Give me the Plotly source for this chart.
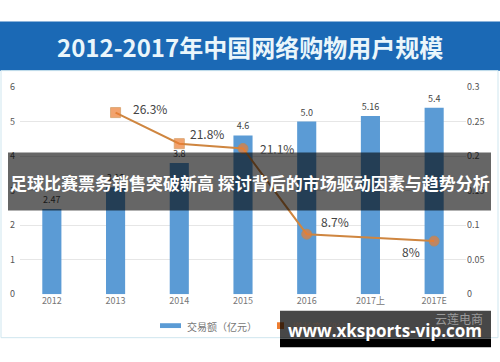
import plotly.graph_objects as go

# ---- data ----
categories = ["2012", "2013", "2014", "2015", "2016", "2017上", "2017E"]
trade_values = [2.47, 3.10, 3.8, 4.6, 5.0, 5.16, 5.4]
trade_labels = ["2.47", "3.10", "3.8", "4.6", "5.0", "5.16", "5.4"]
growth_values = [None, 0.263, 0.218, 0.211, 0.087, None, 0.077]
growth_labels = [None, "26.3%", "21.8%", "21.1%", "8.7%", None, "8%"]
left_ticks = [0, 1, 2, 3, 4, 5, 6]
right_ticks = [0, 0.05, 0.1, 0.15, 0.2, 0.25, 0.3]

title_text = "2012-2017年中国网络购物用户规模"
overlay_text = "足球比赛票务销售突破新高 探讨背后的市场驱动因素与趋势分析"
footer_text = "www.xksports-vip.com"
watermark_text = "云莲电商"
legend_bar = "交易额（亿元）"
legend_line = "增长率（%）"

FONT = "Noto Sans CJK SC, Noto Sans, sans-serif"
W, H = 500, 362

def py(pix):  # pixel-from-top -> paper fraction
    return (H - pix) / H

def px(pix):
    return pix / W

def note(text, x, y, size, color, family=FONT, xanchor="center"):
    return dict(text=text, xref="paper", yref="paper", x=px(x), y=py(y),
                xanchor=xanchor, yanchor="middle", showarrow=False,
                font=dict(size=size, color=color, family=family))

fig = go.Figure()

fig.add_trace(go.Bar(
    x=categories, y=trade_values, text=trade_labels,
    textposition="outside", cliponaxis=False,
    textfont=dict(size=9, color="#444", family=FONT),
    marker=dict(color="#5b9bd5", line=dict(width=0)),
    width=0.3, name=legend_bar, showlegend=False,
))

symbols = ["square", "square", "square", "circle", "circle", "circle", "circle"]
fig.add_trace(go.Scatter(
    x=categories, y=growth_values, yaxis="y2", mode="lines+markers",
    connectgaps=True,
    line=dict(color="#cf8640", width=2),
    marker=dict(color="#ed7d31", size=[9, 10, 10, 10, 10, 10, 10], symbol=symbols),
    name=legend_line, showlegend=False, cliponaxis=False,
))

shapes = []
annotations = []

# title band and container frame
shapes.append(dict(type="rect", xref="paper", yref="paper", x0=0, x1=1,
                   y0=py(66), y1=py(15), fillcolor="#1b69b5", line=dict(width=0), layer="below"))
shapes.append(dict(type="rect", xref="paper", yref="paper", x0=px(1), x1=px(498),
                   y0=py(343), y1=py(66), fillcolor="rgba(0,0,0,0)",
                   line=dict(color="#cfe6ef", width=1), layer="below"))
annotations.append(note("<b>" + title_text + "</b>", 250, 41, 24, "#eaf6fb"))

# growth labels (x given as category index so numeric-looking names are not misread)
label_offsets = {1: (34, 4), 2: (28, 10), 3: (34, 0), 4: (28, 13), 6: (-23, -10)}
for i, lab in enumerate(growth_labels):
    if lab is None:
        continue
    dx, dy = label_offsets[i]
    annotations.append(dict(text=lab, x=i, y=growth_values[i], xref="x", yref="y2",
                            xshift=dx, yshift=dy, showarrow=False,
                            xanchor="center", yanchor="middle",
                            font=dict(size=12, color="#444", family=FONT)))

# legend (manual)
shapes.append(dict(type="rect", xref="paper", yref="paper", x0=px(160), x1=px(181),
                   y0=py(333), y1=py(328), fillcolor="#5b9bd5", line=dict(width=0)))
annotations.append(note(legend_bar, 185, 331, 10, "#777", xanchor="left"))
shapes.append(dict(type="rect", xref="paper", yref="paper", x0=px(277), x1=px(284),
                   y0=py(334), y1=py(327), fillcolor="#ed7d31", line=dict(width=0)))

# overlay band
shapes.append(dict(type="rect", xref="paper", yref="paper", x0=px(8), x1=px(491),
                   y0=py(211), y1=py(151), fillcolor="rgba(0,0,0,0.6)",
                   line=dict(width=0), layer="above"))
annotations.append(note("<b>" + overlay_text + "</b>", 250, 182, 17, "white"))

# footer band
shapes.append(dict(type="rect", xref="paper", yref="paper", x0=px(280), x1=px(491),
                   y0=py(344), y1=py(315), fillcolor="rgba(0,0,0,0.72)",
                   line=dict(width=0), layer="above"))
shapes.append(dict(type="rect", xref="paper", yref="paper", x0=px(280), x1=px(491),
                   y0=py(353), y1=py(344), fillcolor="black",
                   line=dict(width=0), layer="above"))
annotations.append(note(legend_line, 290, 331, 10, "#5a4a40", xanchor="left"))
annotations.append(note(watermark_text, 459, 323, 12, "#9a9a9a"))
annotations.append(note("<b>" + footer_text + "</b>", 385, 336, 17, "white",
                        family="Open Sans, DejaVu Sans, sans-serif"))

fig.update_layout(
    width=W, height=H, autosize=False,
    margin=dict(l=0, r=0, t=0, b=0),
    paper_bgcolor="white", plot_bgcolor="white",
    font=dict(family=FONT),
    bargap=0.7, showlegend=False,
    xaxis=dict(type="category", domain=[px(20), px(466)], range=[-0.5, 6.5],
               showgrid=False, zeroline=False,
               showline=False, tickfont=dict(size=9, color="#777"), ticks=""),
    yaxis=dict(domain=[py(298), py(83)], range=[0, 6], tickvals=left_ticks,
               showgrid=True, gridcolor="#e6e6e6", gridwidth=1, zeroline=False,
               tickfont=dict(size=9, color="#555"), ticklabelstandoff=4),
    yaxis2=dict(overlaying="y", side="right", range=[0, 0.3], tickvals=right_ticks,
                showgrid=False, zeroline=False, tickfont=dict(size=9, color="#555")),
    shapes=shapes, annotations=annotations,
)

fig.write_html("out.html", post_script="document.body.style.margin='0';",
               config={"displayModeBar": False})
